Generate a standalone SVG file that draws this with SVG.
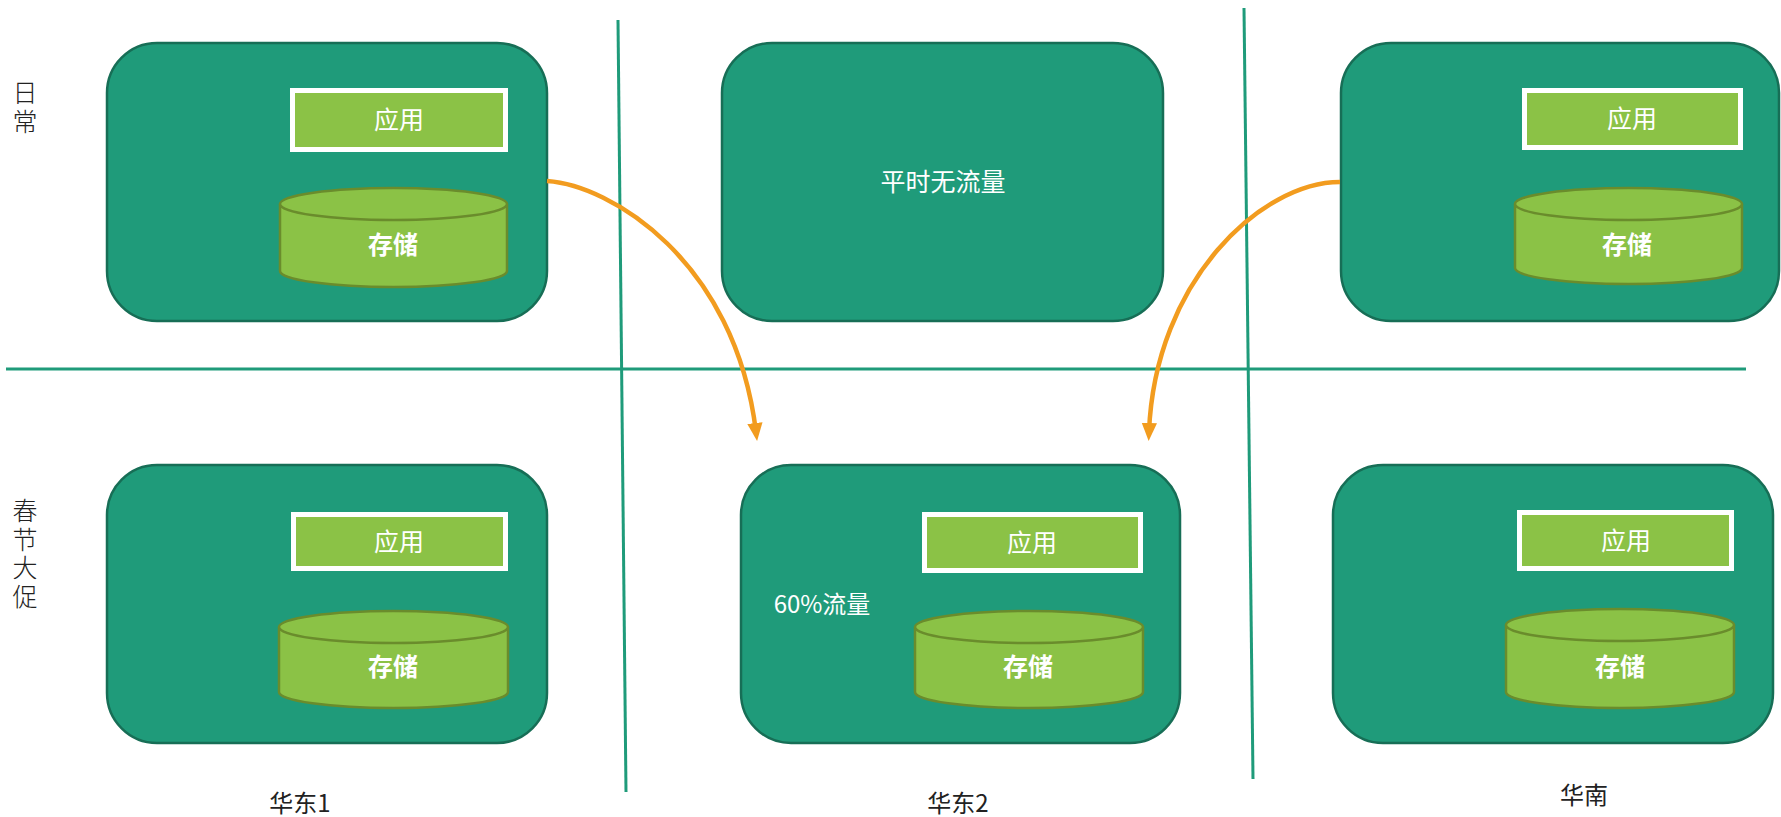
<svg xmlns="http://www.w3.org/2000/svg" width="1781" height="817" viewBox="0 0 1781 817">
<defs>
<style>
.zone{fill:#1f9b7a;stroke:#176e56;stroke-width:2.5}
.app{fill:#8bc246;stroke:#ffffff;stroke-width:5}
.cyl{fill:#8bc246;stroke:#6a8c2c;stroke-width:2.5}
.wt{font-family:"Noto Sans CJK SC","Noto Sans",sans-serif;font-size:25px;fill:#ffffff;text-anchor:middle}
.bt{font-weight:bold}
.lbl{font-family:"Noto Sans CJK SC","Noto Sans",sans-serif;font-size:24px;fill:#222222;text-anchor:middle}
.side{font-family:"Noto Sans CJK SC","Noto Sans",sans-serif;font-size:25px;font-weight:300;fill:#222222;writing-mode:vertical-rl;letter-spacing:3.5px}
.div{stroke:#1f9b7a;stroke-width:3;fill:none}
.arr{stroke:#f29c1f;stroke-width:4.5;fill:none;marker-end:url(#ah)}
</style>
<marker id="ah" markerWidth="4" markerHeight="4" refX="2" refY="2" orient="auto" markerUnits="strokeWidth" viewBox="0 0 4 4">
<path d="M0,0.3 L4,2 L0,3.7 Z" fill="#f29c1f"/>
</marker>
</defs>
<rect width="1781" height="817" fill="#ffffff"/>
<g id="dividers">
<line class="div" x1="6" y1="369" x2="1746" y2="369"/>
<line class="div" x1="618" y1="20" x2="626" y2="792"/>
<line class="div" x1="1244" y1="8" x2="1253" y2="779"/>
</g>
<g id="row-labels">
<text class="side" x="25" y="80">日常</text>
<text class="side" x="25" y="498">春节大促</text>
</g>
<g id="col-labels">
<text class="lbl" x="300" y="812">华东1</text>
<text class="lbl" x="958" y="812">华东2</text>
<text class="lbl" x="1584" y="804">华南</text>
</g>
<g id="daily-east1">
<rect class="zone" x="107" y="43" width="440" height="278" rx="50"/>
<rect class="app" x="292.5" y="90.5" width="213" height="59"/>
<text class="wt" x="399" y="129">应用</text>
<path class="cyl" d="M280,204 V271 A113.5,16 0 0 0 507,271 V204"/>
<ellipse class="cyl" cx="393.5" cy="204" rx="113.5" ry="16"/>
<text class="wt bt" x="393" y="254">存储</text>
</g>
<g id="daily-east2">
<rect class="zone" x="722" y="43" width="441" height="278" rx="50"/>
<text class="wt" x="943" y="191">平时无流量</text>
</g>
<g id="daily-south">
<rect class="zone" x="1341" y="43" width="438" height="278" rx="50"/>
<rect class="app" x="1524.5" y="90.5" width="216" height="57"/>
<text class="wt" x="1632" y="128">应用</text>
<path class="cyl" d="M1515,204 V268 A113.5,16 0 0 0 1742,268 V204"/>
<ellipse class="cyl" cx="1628.5" cy="204" rx="113.5" ry="16"/>
<text class="wt bt" x="1627" y="254">存储</text>
</g>
<g id="promo-east1">
<rect class="zone" x="107" y="465" width="440" height="278" rx="50"/>
<rect class="app" x="293.5" y="514.5" width="212" height="54"/>
<text class="wt" x="399" y="551">应用</text>
<path class="cyl" d="M279,627 V692 A114.5,16 0 0 0 508,692 V627"/>
<ellipse class="cyl" cx="393.5" cy="627" rx="114.5" ry="16"/>
<text class="wt bt" x="393" y="676">存储</text>
</g>
<g id="promo-east2">
<rect class="zone" x="741" y="465" width="439" height="278" rx="50"/>
<rect class="app" x="924.5" y="514.5" width="216" height="56"/>
<text class="wt" x="1032" y="552">应用</text>
<text class="wt" x="822" y="613" style="font-size:24px">60%流量</text>
<path class="cyl" d="M915,627 V692 A114,16 0 0 0 1143,692 V627"/>
<ellipse class="cyl" cx="1029" cy="627" rx="114" ry="16"/>
<text class="wt bt" x="1028" y="676">存储</text>
</g>
<g id="promo-south">
<rect class="zone" x="1333" y="465" width="440" height="278" rx="50"/>
<rect class="app" x="1519.5" y="512.5" width="212" height="56"/>
<text class="wt" x="1626" y="550">应用</text>
<path class="cyl" d="M1506,625 V692 A114,16 0 0 0 1734,692 V625"/>
<ellipse class="cyl" cx="1620" cy="625" rx="114" ry="16"/>
<text class="wt bt" x="1620" y="676">存储</text>
</g>
<g id="connectors">
<path class="arr" d="M547,181 C610,185 735,260 756,432"/>
<path class="arr" d="M1340,182 C1262,182 1155,280 1149,432"/>
</g>
</svg>
